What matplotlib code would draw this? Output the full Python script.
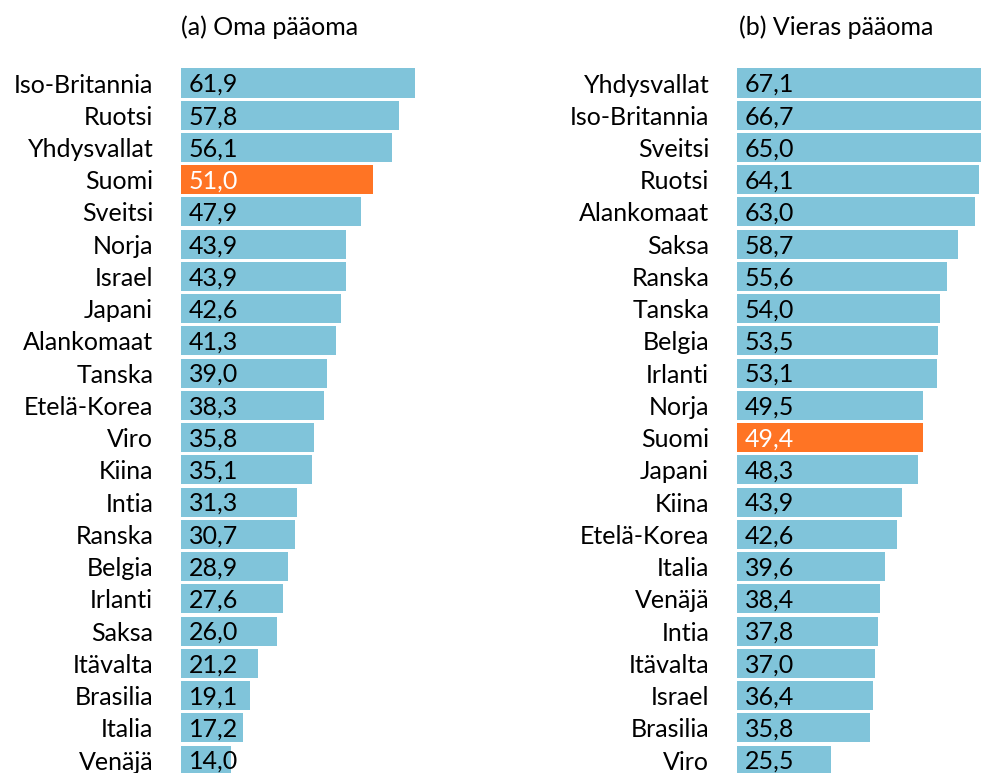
import matplotlib
matplotlib.use("Agg")
import matplotlib.pyplot as plt

plt.rcParams['font.family'] = ['Lato', 'DejaVu Sans']

# (a) Oma pääoma
own_countries = ["Iso-Britannia", "Ruotsi", "Yhdysvallat", "Suomi", "Sveitsi", "Norja",
                 "Israel", "Japani", "Alankomaat", "Tanska", "Etelä-Korea", "Viro",
                 "Kiina", "Intia", "Ranska", "Belgia", "Irlanti", "Saksa", "Itävalta",
                 "Brasilia", "Italia", "Venäjä"]
own_values = [61.9, 57.8, 56.1, 51.0, 47.9, 43.9, 43.9, 42.6, 41.3, 39.0, 38.3, 35.8,
              35.1, 31.3, 30.7, 28.9, 27.6, 26.0, 21.2, 19.1, 17.2, 14.0]

# (b) Vieras pääoma
debt_countries = ["Yhdysvallat", "Iso-Britannia", "Sveitsi", "Ruotsi", "Alankomaat",
                  "Saksa", "Ranska", "Tanska", "Belgia", "Irlanti", "Norja", "Suomi",
                  "Japani", "Kiina", "Etelä-Korea", "Italia", "Venäjä", "Intia",
                  "Itävalta", "Israel", "Brasilia", "Viro"]
debt_values = [67.1, 66.7, 65.0, 64.1, 63.0, 58.7, 55.6, 54.0, 53.5, 53.1, 49.5, 49.4,
               48.3, 43.9, 42.6, 39.6, 38.4, 37.8, 37.0, 36.4, 35.8, 25.5]

titles = ["(a) Oma pääoma", "(b) Vieras pääoma"]

BLUE = "#80C4DA"
ORANGE = "#FF7424"
HILITE = "Suomi"
FS = 18

W, H = 981, 773
fig = plt.figure(figsize=(W / 100, H / 100), dpi=100)

scale = 3.84          # px per unit
row_h = 32.24         # px per row
top = 83 - row_h / 2  # px from top of figure
n = len(own_countries)
bottom_px = top + n * row_h
x0 = 4 / scale        # bars start slightly left of the visible edge


def panel(left_px, width_px, countries, values, title, title_x):
    ax = fig.add_axes([left_px / W, 1 - bottom_px / H, width_px / W, n * row_h / H])
    cols = [ORANGE if c == HILITE else BLUE for c in countries]
    ys = range(len(countries))
    ax.barh(ys, values, height=0.9, color=cols, edgecolor="none")
    ax.set_xlim(x0, x0 + width_px / scale)
    ax.set_ylim(len(countries) - 0.5, -0.5)
    ax.set_yticks(list(ys))
    ax.set_yticklabels(countries, fontsize=FS)
    ax.tick_params(axis="y", length=0, pad=20)
    ax.set_xticks([])
    for s in ax.spines.values():
        s.set_visible(False)
    for i, (c, v) in enumerate(zip(countries, values)):
        ax.annotate(f"{v:.1f}".replace(".", ","), xy=(0, i),
                    xycoords=ax.get_yaxis_transform(),
                    xytext=(8 * 0.72, -1), textcoords="offset points",
                    ha="left", va="center", fontsize=FS,
                    color="white" if c == HILITE else "black")
    fig.text(title_x / W, 1 - 27 / H, title, ha="center", va="center", fontsize=FS)
    return ax


panel(181, 260, own_countries, own_values, titles[0], 270)
panel(737, 244, debt_countries, debt_values, titles[1], 836)

fig.savefig("out.png", dpi=100)
